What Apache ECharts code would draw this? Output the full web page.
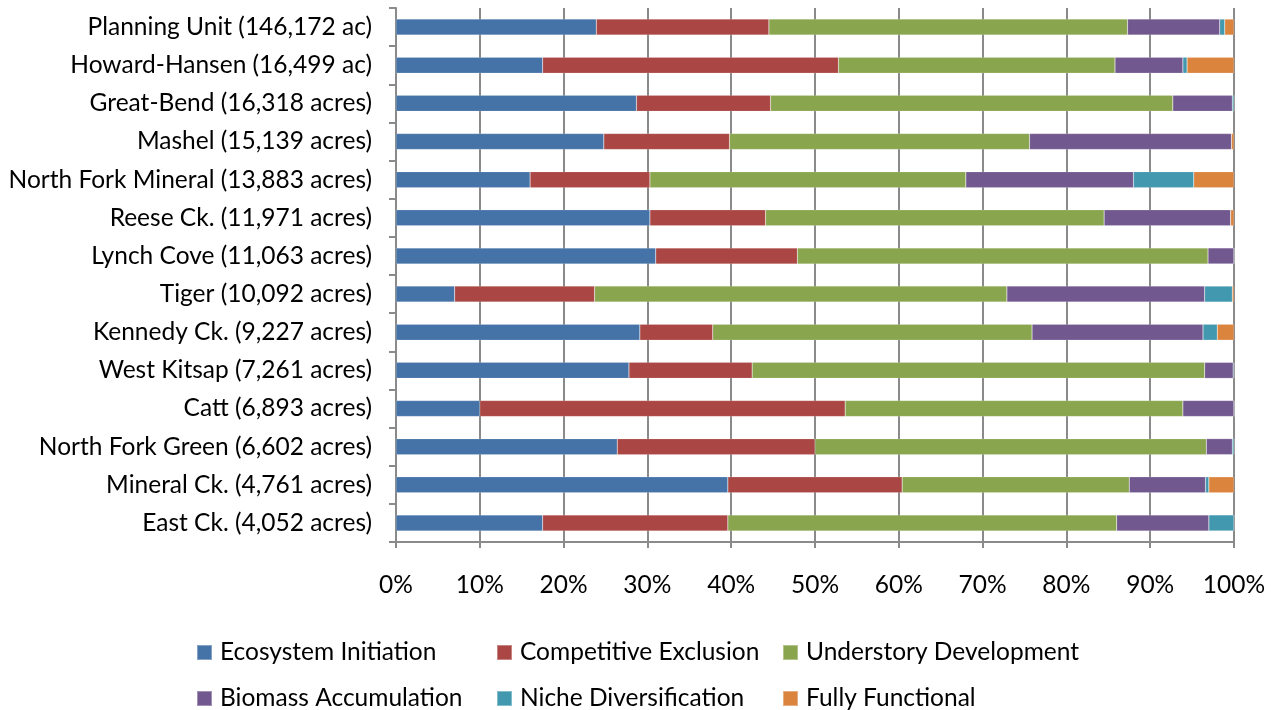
<!DOCTYPE html>
<html>
<head>
<meta charset="utf-8">
<script src="https://cdn.jsdelivr.net/npm/echarts@6/dist/echarts.min.js"></script>
<style>
  html, body { margin: 0; padding: 0; background: #ffffff; }
  #chart { width: 1271px; height: 710px; }
</style>
</head>
<body>
<div id="chart"></div>
<script>
// Stand categories (top to bottom)
const categories = [
  'Planning Unit (146,172 ac)',
  'Howard-Hansen (16,499 ac)',
  'Great-Bend (16,318 acres)',
  'Mashel (15,139 acres)',
  'North Fork Mineral (13,883 acres)',
  'Reese Ck. (11,971 acres)',
  'Lynch Cove (11,063 acres)',
  'Tiger (10,092 acres)',
  'Kennedy Ck. (9,227 acres)',
  'West Kitsap (7,261 acres)',
  'Catt (6,893 acres)',
  'North Fork Green (6,602 acres)',
  'Mineral Ck. (4,761 acres)',
  'East Ck. (4,052 acres)'
];

// Share of each stand in each development stage (%)
const ecosystemInitiation    = [23.9, 17.5, 28.7, 24.8, 16.0, 30.3, 31.0,  7.0, 29.1, 27.8, 10.0, 26.4, 39.6, 17.5];
const competitiveExclusion   = [20.6, 35.3, 16.0, 15.0, 14.3, 13.8, 16.9, 16.7,  8.7, 14.7, 43.6, 23.6, 20.8, 22.1];
const understoryDevelopment  = [42.8, 33.0, 48.0, 35.8, 37.7, 40.4, 49.0, 49.2, 38.1, 54.0, 40.3, 46.7, 27.1, 46.4];
const biomassAccumulation    = [11.0,  8.1,  7.1, 24.1, 20.0, 15.1,  3.1, 23.6, 20.4,  3.4,  6.1,  3.1,  9.1, 11.0];
const nicheDiversification   = [ 0.6,  0.5,  0.2,  0.0,  7.2,  0.0,  0.0,  3.3,  1.7,  0.1,  0.0,  0.2,  0.4,  3.0];
const fullyFunctional        = [ 1.1,  5.6,  0.0,  0.3,  4.8,  0.4,  0.0,  0.2,  2.0,  0.0,  0.0,  0.0,  3.0,  0.0];

// Percent axis ticks
const tickValues = [0, 10, 20, 30, 40, 50, 60, 70, 80, 90, 100];

const seriesDefs = [
  { name: 'Ecosystem Initiation',   data: ecosystemInitiation,   color: '#4572A7' },
  { name: 'Competitive Exclusion',  data: competitiveExclusion,  color: '#AA4643' },
  { name: 'Understory Development', data: understoryDevelopment, color: '#89A54E' },
  { name: 'Biomass Accumulation',   data: biomassAccumulation,   color: '#71588F' },
  { name: 'Niche Diversification',  data: nicheDiversification,  color: '#4198AF' },
  { name: 'Fully Functional',       data: fullyFunctional,       color: '#DB843D' }
];

const FONT = 'Lato';
const FONT_SIZE = 24.5;
const AXIS_GREY = '#8a8a8a';

const chart = echarts.init(document.getElementById('chart'), null, { renderer: 'canvas' });

// Legend laid out as a 3 x 2 grid: one legend component per entry
const legendCols = [191, 491, 777];
const legendRows = [635, 681];
function legendCell(name, i) {
  return {
    left: legendCols[i % 3],
    top: legendRows[Math.floor(i / 3)],
    itemWidth: 15,
    itemHeight: 15,
    itemGap: 0,
    icon: 'rect',
    selectedMode: false,
    textStyle: { fontFamily: FONT, fontSize: FONT_SIZE, color: '#000', padding: [0, 0, 0, 3] },
    data: [name]
  };
}

chart.setOption({
  animation: false,
  backgroundColor: '#ffffff',
  color: seriesDefs.map(s => s.color),
  grid: { left: 396, right: 37, top: 8, bottom: 168, containLabel: false },
  legend: seriesDefs.map((s, i) => legendCell(s.name, i)),
  xAxis: {
    type: 'value',
    min: tickValues[0],
    max: tickValues[tickValues.length - 1],
    interval: tickValues[1] - tickValues[0],
    axisLine: { show: true, lineStyle: { color: AXIS_GREY, width: 2 } },
    axisTick: { show: true, length: 6, lineStyle: { color: AXIS_GREY, width: 2 } },
    splitLine: { show: true, lineStyle: { color: AXIS_GREY, width: 2 } },
    axisLabel: {
      formatter: v => v + '%',
      fontFamily: FONT,
      fontSize: FONT_SIZE,
      color: '#000',
      margin: 31
    }
  },
  yAxis: {
    type: 'category',
    inverse: true,
    data: categories,
    axisLine: { show: true, lineStyle: { color: AXIS_GREY, width: 2 } },
    axisTick: { show: true, length: 7, lineStyle: { color: AXIS_GREY, width: 2 } },
    axisLabel: {
      fontFamily: FONT,
      fontSize: FONT_SIZE,
      color: '#000',
      margin: 24
    }
  },
  series: seriesDefs.map(s => ({
    name: s.name,
    type: 'bar',
    stack: 'total',
    barWidth: 16,
    data: s.data,
    itemStyle: { color: s.color, borderColor: 'rgba(255,255,255,0.35)', borderWidth: 0.5 }
  }))
});
</script>
</body>
</html>
